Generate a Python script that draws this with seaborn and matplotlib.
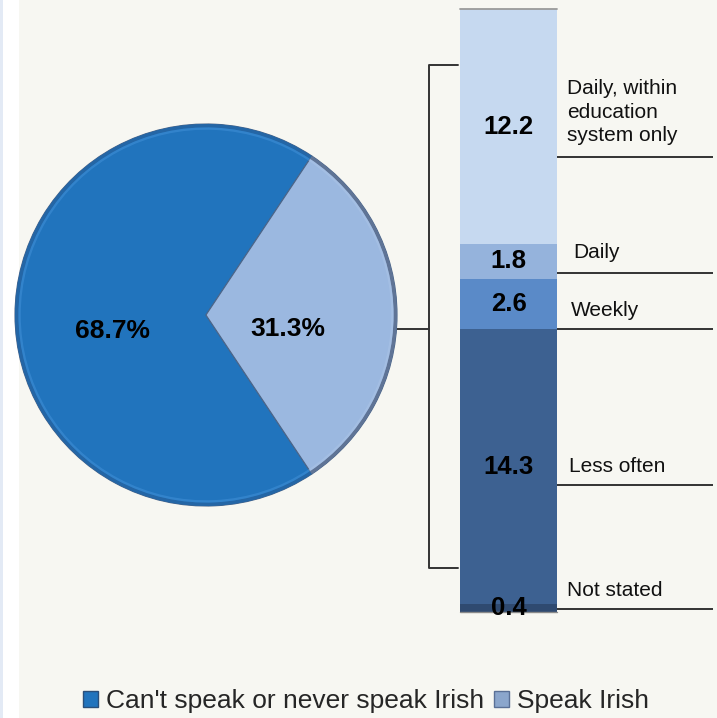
import numpy as np
import matplotlib
matplotlib.use("Agg")
import matplotlib.pyplot as plt
from matplotlib.patches import Rectangle, Patch
import seaborn as sns

# ---- data ----
pie_labels = ["Can't speak or never speak Irish", "Speak Irish"]
pie_values = [68.7, 31.3]
seg_labels = ["Not stated", "Less often", "Weekly", "Daily", "Daily, within\neducation\nsystem only"]
seg_values = [0.4, 14.3, 2.6, 1.8, 12.2]

sns.set_theme(style="white")
plt.rcParams["font.family"] = ["Liberation Sans", "DejaVu Sans"]

W, H = 717, 718
fig = plt.figure(figsize=(W / 100, H / 100), dpi=100)
BG = "#f7f7f2"
fig.patch.set_facecolor(BG)

# overlay axes in pixel coordinates (for decorations)
ov = fig.add_axes([0, 0, 1, 1])
ov.set_xlim(0, W)
ov.set_ylim(H, 0)
ov.axis("off")
ov.add_patch(Rectangle((0, 0), 19, H, facecolor="white", edgecolor="none", zorder=0))
ov.add_patch(Rectangle((0, 0), 3, H, facecolor="#e3eaf5", edgecolor="none", zorder=0))

# ---- pie ----
cx, cy, r = 206, 315, 191
half = 200
ax_pie = fig.add_axes([(cx - half) / W, (H - cy - half) / H, 2 * half / W, 2 * half / H])
ax_pie.set_facecolor("none")
pie_colors = ["#2174bd", "#9bb8e0"]
rim_colors = ["#2466a6", "#5f7496"]
start = (pie_values[1] / 100 * 360) / 2
ax_pie.pie(pie_values, colors=pie_colors, startangle=start, counterclock=True,
           radius=1.0, wedgeprops=dict(edgecolor="#4a6488", linewidth=0.8))
ax_pie.pie(pie_values, colors=rim_colors, startangle=start, counterclock=True, radius=1.0,
           wedgeprops=dict(width=0.018, edgecolor="none"))
ax_pie.pie(pie_values, colors=["#3f8ed6", "#aac3e6"], startangle=start, counterclock=True, radius=0.982,
           wedgeprops=dict(width=0.012, edgecolor="none", alpha=0.6))
lim = half / r
ax_pie.set_xlim(-lim, lim)
ax_pie.set_ylim(-lim, lim)
ax_pie.axis("off")
ax_pie.text(-0.49, -0.085, f"{pie_values[0]}%", ha="center", va="center",
            fontsize=19, fontweight="bold", color="black")
ax_pie.text(0.43, -0.075, f"{pie_values[1]}%", ha="center", va="center",
            fontsize=19, fontweight="bold", color="black")

# ---- stacked bar ----
bx0, bx1, by0, by1 = 460, 557, 612, 9
ax_bar = fig.add_axes([bx0 / W, (H - by0) / H, (bx1 - bx0) / W, (by0 - by1) / H])
ax_bar.set_facecolor("none")
seg_colors = ["#2f4a70", "#3d6191", "#5a8ac8", "#95b3dc", "#c6d9f0"]
bottoms = np.concatenate([[0], np.cumsum(seg_values)[:-1]])
ax_bar.bar([0] * len(seg_values), seg_values, bottom=bottoms, width=1.0,
           color=seg_colors, edgecolor="none")
total = float(np.sum(seg_values))
ax_bar.set_xlim(-0.5, 0.5)
ax_bar.set_ylim(0, total)
ax_bar.axis("off")
ax_bar.axhline(total, color="#9a9a9a", lw=1.3, clip_on=False)
ax_bar.axhline(0, color="#8a8a8a", lw=1.0, clip_on=False)
for b, v in zip(bottoms, seg_values):
    ax_bar.text(0, b + v / 2, f"{v}", ha="center", va="center", fontsize=18.5,
                fontweight="bold", color="black", clip_on=False)

# ---- label lines and labels (pixel layout) ----
lc = "#333333"
line_y = [609, 485, 329, 273, 157]
label_pos = [(567, 591), (569, 467), (571, 311), (573, 253), (567, 112)]
for ly, (tx, ty), lab in zip(line_y, label_pos, seg_labels):
    ov.plot([bx1, 713], [ly, ly], color=lc, lw=1.4, solid_capstyle="butt")
    ov.text(tx, ty, lab, ha="left", va="center", fontsize=15, color="#111111", linespacing=1.28)

# bracket
ov.plot([458, 429, 429, 458], [65, 65, 568, 568], color=lc, lw=1.4)
ov.plot([380, 429], [329, 329], color=lc, lw=1.4)

# ---- legend ----
handles = [Patch(facecolor=pie_colors[0], edgecolor="#2a4f7a"),
           Patch(facecolor="#8ba6cc", edgecolor="#5a7096")]
fig.legend(handles, pie_labels, loc="center", bbox_to_anchor=(366 / W, 1 - 701 / H),
           ncol=2, frameon=False, fontsize=19, handlelength=0.55, handleheight=0.55,
           handletextpad=0.3, columnspacing=0.4, borderpad=0, borderaxespad=0)

fig.savefig("out.png", dpi=100, facecolor=fig.get_facecolor())
